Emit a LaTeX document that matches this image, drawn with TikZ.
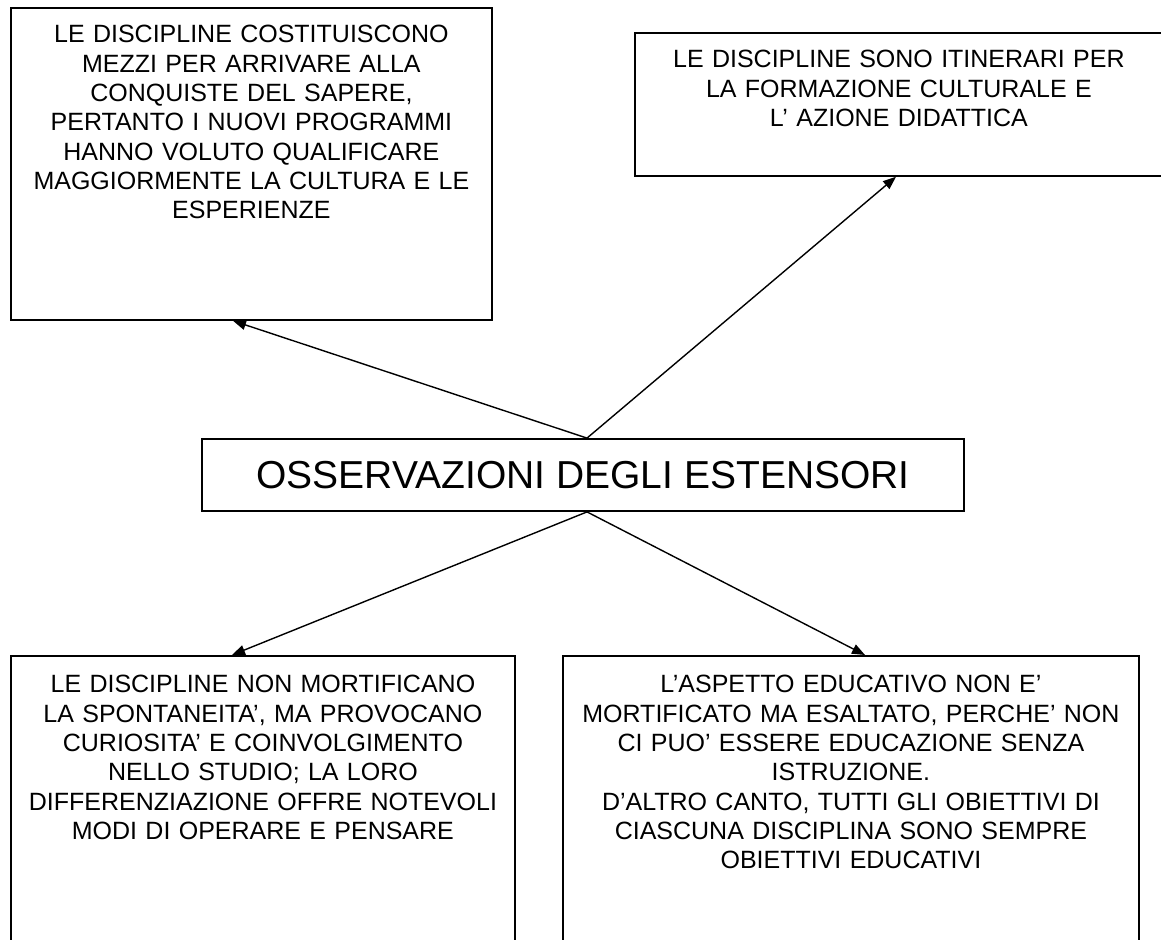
\documentclass[tikz,border=0pt]{standalone}
\usepackage{fontspec}
\setmainfont{Liberation Sans}
\usetikzlibrary{arrows.meta, calc}

\begin{document}
\begin{tikzpicture}[x=0.5pt, y=-0.5pt,
        notebox/.style={draw, line width=0.9pt, inner sep=0pt, anchor=north west, align=center, font=\fontsize{12.5}{14.65}\selectfont},
        titlebox/.style={draw, line width=0.9pt, inner sep=0pt, minimum width=381pt, minimum height=36pt, font=\fontsize{19.5}{23}\selectfont},
        link/.style={line width=0.7pt, -{Triangle[length=6.5pt, width=5pt]}}
    ]
    \useasboundingbox (0,0) rectangle (1161,940);
    \node[titlebox] (ctr) at (583,475) {OSSERVAZIONI DEGLI ESTENSORI};
    \node[notebox, text width=240.5pt, text height=17.5pt, text depth=138.5pt] (mezzi) at (10,7) {LE DISCIPLINE COSTITUISCONO \\ MEZZI PER ARRIVARE ALLA \\ CONQUISTE DEL SAPERE, \\ PERTANTO I NUOVI PROGRAMMI \\ HANNO VOLUTO QUALIFICARE \\ MAGGIORMENTE LA CULTURA E LE \\ ESPERIENZE};
    \node[notebox, text width=264pt, text height=17.5pt, text depth=54pt] (itinerari) at (634,32) {LE DISCIPLINE SONO ITINERARI PER \\ LA FORMAZIONE CULTURALE E \\ L’ AZIONE DIDATTICA};
    \node[notebox, text width=252pt, text height=18.5pt, text depth=129pt] (spontaneita) at (10,655) {LE DISCIPLINE NON MORTIFICANO \\ LA SPONTANEITA’, MA PROVOCANO \\ CURIOSITA’ E COINVOLGIMENTO \\ NELLO STUDIO; LA LORO \\ DIFFERENZIAZIONE OFFRE NOTEVOLI \\ MODI DI OPERARE E PENSARE};
    \node[notebox, text width=288pt, text height=18.5pt, text depth=129pt] (educativo) at (562,655) {L’ASPETTO EDUCATIVO NON E’ \\ MORTIFICATO MA ESALTATO, PERCHE’ NON \\ CI PUO’ ESSERE EDUCAZIONE SENZA \\ ISTRUZIONE. \\ D’ALTRO CANTO, TUTTI GLI OBIETTIVI DI \\ CIASCUNA DISCIPLINA SONO SEMPRE \\ OBIETTIVI EDUCATIVI};
    % frecce dal centro
    \draw[link] ([xshift=2pt]ctr.north) -- ($(mezzi.south west)+(223,0)$);
    \draw[link] ([xshift=2pt]ctr.north) -- ($(itinerari.south west)+(262,0)$);
    \draw[link] ([xshift=2pt]ctr.south) -- ($(spontaneita.north west)+(222,0)$);
    \draw[link] ([xshift=2pt]ctr.south) -- ($(educativo.north west)+(303,0)$);
\end{tikzpicture}
\end{document}
